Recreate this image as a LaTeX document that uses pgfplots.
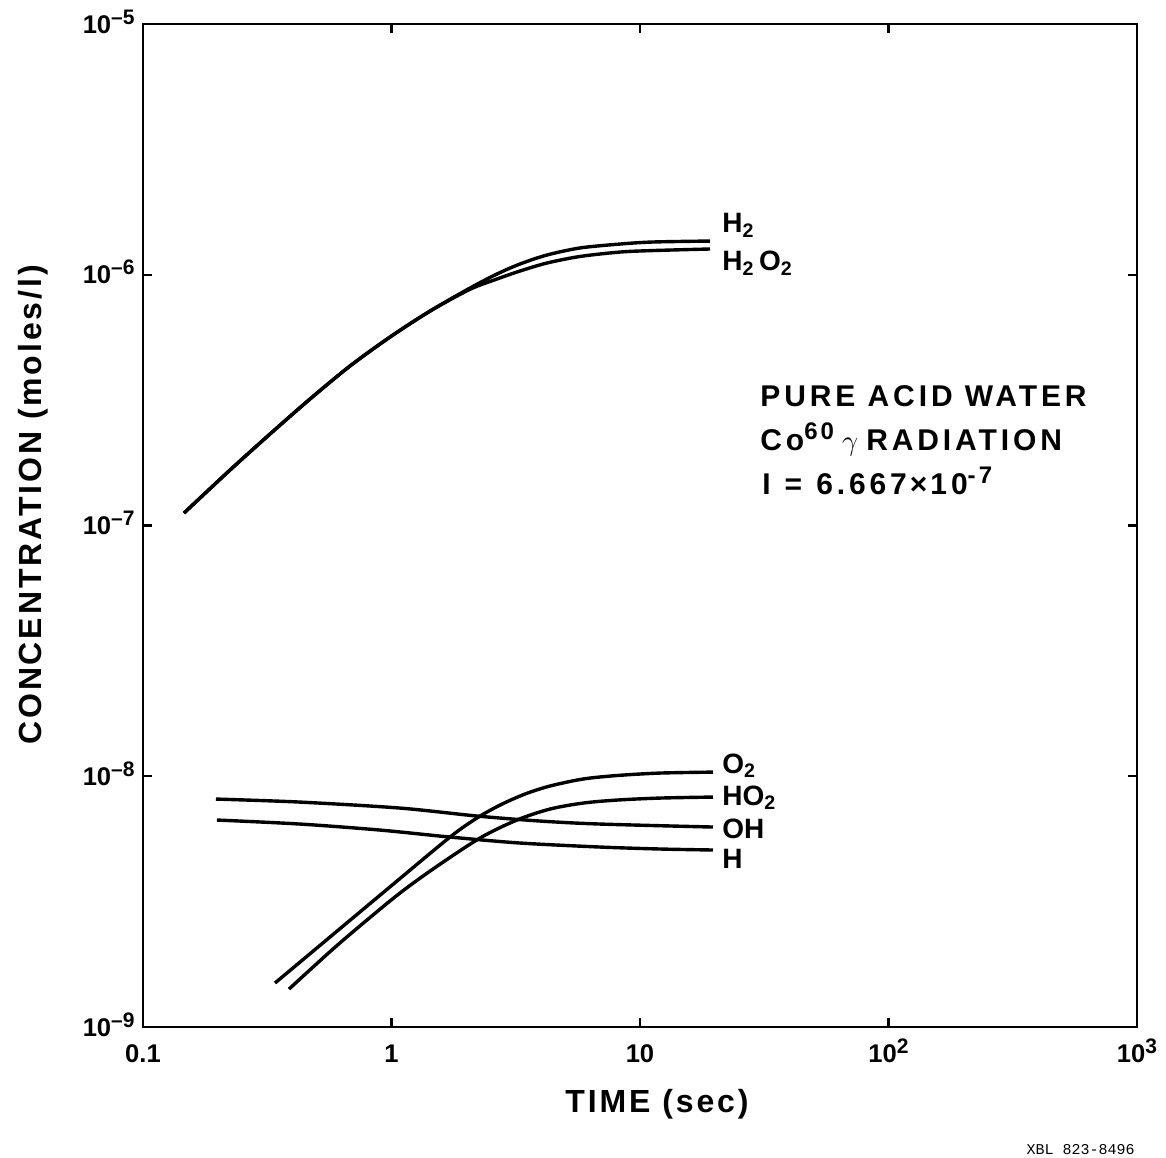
\documentclass[border=0pt]{standalone}
\usepackage{fontspec}
\setmainfont{Liberation Sans}
\setmonofont{Liberation Mono}
\usepackage{pgfplots}
\pgfplotsset{compat=1.18}
\newfontfamily\labfont[LetterSpace=9]{Liberation Sans}
\newfontfamily\annfont[LetterSpace=13]{Liberation Sans}
\newcommand\tsup[1]{\raisebox{4.5pt}{\fontsize{10.5}{10.5}\selectfont\bfseries #1}}
\begin{document}
\begin{tikzpicture}
\path[use as bounding box] (-71.5pt,-65pt) rectangle (511.5pt,513.5pt);
\begin{axis}[
  at={(0,0)}, anchor=south west,
  scale only axis, width=497pt, height=501.5pt,
  xmode=log, ymode=log,
  xmin=0.1, xmax=1000, ymin=1e-9, ymax=1e-5,
  xtick={0.1,1,10,100,1000},
  xticklabels={0.1,1,10,10\tsup{2},10\tsup{3}},
  ytick={1e-9,1e-8,1e-7,1e-6,1e-5},
  yticklabels={10\tsup{\textendash9},10\tsup{\textendash8},10\tsup{\textendash7},10\tsup{\textendash6},10\tsup{\textendash5}},
  tick align=inside, major tick length=4.5pt, minor tick length=0pt,
  axis line style={line width=1.3pt},
  every tick/.style={line width=1.1pt, black},
  ticklabel style={font=\fontsize{12.8}{14}\selectfont\bfseries, inner sep=0pt},
  xticklabel style={anchor=base, yshift=-17.5pt},
  yticklabel style={anchor=base east, xshift=-4pt, yshift=-4.5pt},
  clip=false,
]
% H2
\addplot[line width=1.7pt, smooth] coordinates {
 (0.1462,1.121e-7) (0.2239,1.664e-7) (0.3245,2.317e-7) (0.4699,3.195e-7) (0.6808,4.326e-7)
 (0.9863,5.644e-7) (1.4289,7.167e-7) (2.0701,8.854e-7) (2.658,1.007e-6) (3.290,1.104e-6)
 (4.225,1.199e-6) (5.736,1.279e-6) (8.309,1.326e-6) (11.28,1.351e-6) (19.13,1.363e-6)};
% H2O2
\addplot[line width=1.7pt, smooth] coordinates {
 (0.1462,1.121e-7) (0.2239,1.664e-7) (0.3245,2.317e-7) (0.4699,3.195e-7) (0.6808,4.326e-7)
 (0.9863,5.644e-7) (1.4289,7.160e-7) (2.0701,8.750e-7) (2.658,9.618e-7) (3.290,1.035e-6)
 (4.225,1.114e-6) (5.736,1.183e-6) (8.309,1.232e-6) (11.28,1.249e-6) (19.13,1.267e-6)};
% O2
\addplot[line width=1.7pt, smooth] coordinates {
 (0.3398,1.498e-9) (0.5656,2.285e-9) (0.9954,3.650e-9) (1.720,5.723e-9) (2.208,6.816e-9)
 (2.733,7.676e-9) (3.445,8.495e-9) (4.344,9.145e-9) (5.897,9.750e-9) (8.081,1.007e-8)
 (12.04,1.030e-8) (19.67,1.039e-8)};
% HO2
\addplot[line width=1.7pt, smooth] coordinates {
 (0.3869,1.417e-9) (0.5815,2.047e-9) (0.7968,2.671e-9) (1.082,3.423e-9) (1.469,4.267e-9)
 (2.270,5.671e-9) (3.199,6.692e-9) (4.344,7.402e-9) (5.897,7.819e-9) (8.081,8.038e-9)
 (12.04,8.187e-9) (19.67,8.263e-9)};
% OH
\addplot[line width=1.7pt, smooth] coordinates {
 (0.1967,8.112e-9) (0.4283,7.891e-9) (1.082,7.469e-9) (2.208,6.942e-9) (3.959,6.630e-9)
 (6.902,6.450e-9) (19.67,6.274e-9)};
% H
\addplot[line width=1.7pt, smooth] coordinates {
 (0.1985,6.692e-9) (0.4283,6.450e-9) (0.8990,6.103e-9) (1.720,5.723e-9) (3.290,5.418e-9)
 (6.902,5.222e-9) (12.04,5.128e-9) (19.67,5.081e-9)};
\end{axis}
\begin{scope}[every node/.style={inner sep=0pt, font=\fontsize{14}{16}\selectfont\bfseries}]
\node[anchor=base west] at (289.5pt,397pt) {H\textsubscript{2}};
\node[anchor=base west] at (289.5pt,378pt) {H\textsubscript{2}\,O\textsubscript{2}};
\node[anchor=base west] at (289.5pt,127pt) {O\textsubscript{2}};
\node[anchor=base west] at (289.5pt,111pt) {HO\textsubscript{2}};
\node[anchor=base west] at (289.5pt,94.5pt) {OH};
\node[anchor=base west] at (289.5pt,79.5pt) {H};
\end{scope}
\begin{scope}[every node/.style={inner sep=0pt, font=\fontsize{15}{17}\selectfont\bfseries}]
\node[anchor=base west] at (308.5pt,310pt) {\annfont PURE ACID WATER};
\node[anchor=base west] at (308.5pt,288pt) {\annfont Co\raisebox{5.5pt}{\fontsize{12}{12}\selectfont 60}\hspace{4pt}{\mdseries\Large$\gamma$}\hspace{4pt}RADIATION};
\node[anchor=base west] at (309.5pt,266pt) {\annfont I\hspace{7pt}=\hspace{7pt}6.667\hspace{1.5pt}×\hspace{1.5pt}10\raisebox{5.5pt}{\fontsize{12}{12}\selectfont -7}};
\end{scope}
\node[anchor=base, inner sep=0pt, font=\fontsize{16}{18}\selectfont\bfseries] at (257pt,-42.5pt) {\labfont TIME (sec)};
\node[anchor=base, rotate=90, inner sep=0pt, font=\fontsize{16}{18}\selectfont\bfseries] at (-50.75pt,261pt) {\labfont CONCENTRATION (moles/l)};
\node[anchor=base east, inner sep=0pt, font=\fontsize{7.5}{9}\selectfont\ttfamily] at (496pt,-63.5pt) {XBL 823-8496};
\end{tikzpicture}
\end{document}
